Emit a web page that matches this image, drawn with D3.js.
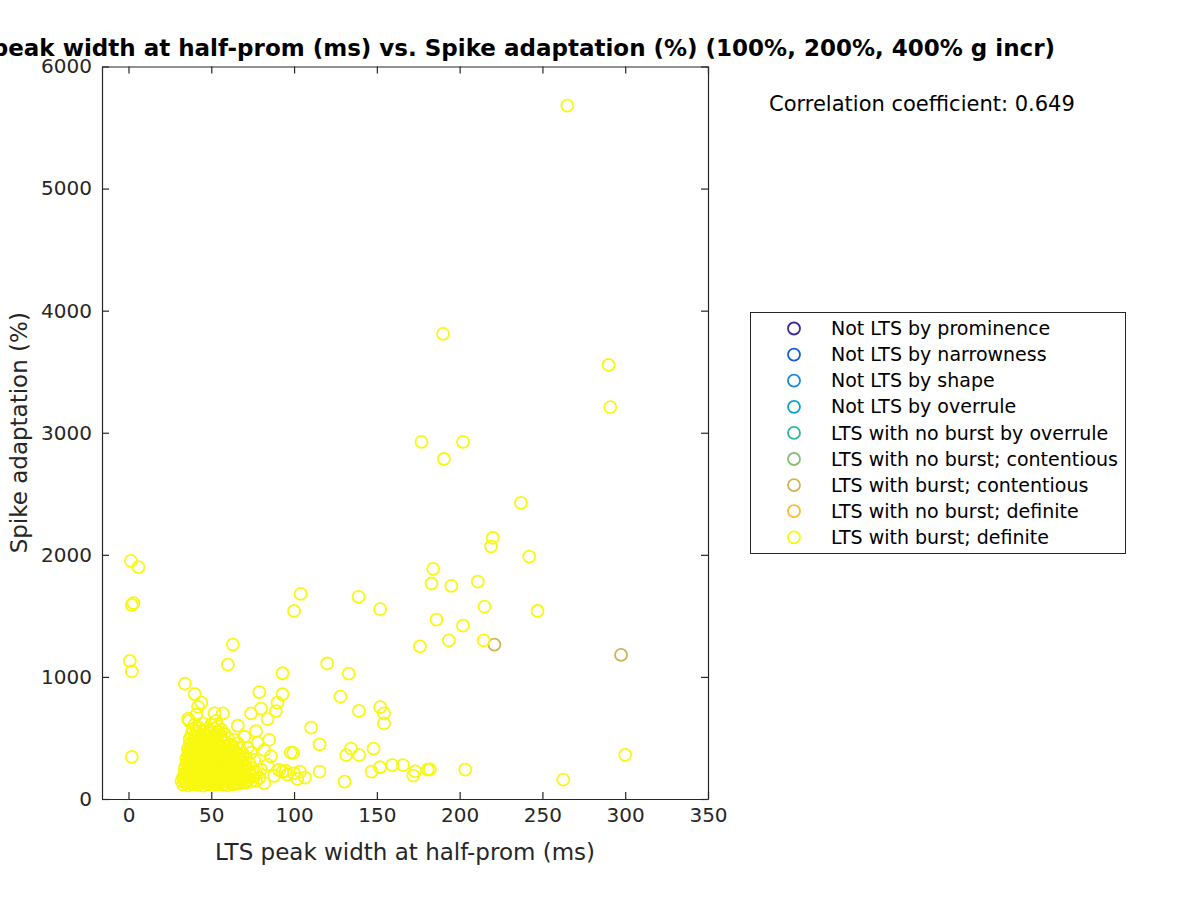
<!DOCTYPE html>
<html>
<head>
<meta charset="utf-8">
<script src="https://cdn.jsdelivr.net/npm/d3@7"></script>
<style>
  html, body { margin: 0; padding: 0; background: #ffffff; }
  svg { display: block; font-family: "DejaVu Sans", sans-serif; }
</style>
</head>
<body>
<svg id="chart" width="1200" height="900"></svg>
<script>
// ---------------- data ----------------
const titleText = "LTS peak width at half-prom (ms) vs. Spike adaptation (%) (100%, 200%, 400% g incr)";
const xLabel = "LTS peak width at half-prom (ms)";
const yLabel = "Spike adaptation (%)";
const corrText = "Correlation coefficient: 0.649";

const xTicks = [0, 50, 100, 150, 200, 250, 300, 350];
const yTicks = [0, 1000, 2000, 3000, 4000, 5000, 6000];
const xDomain = [-16, 350];
const yDomain = [0, 6000];

const categories = [
  "Not LTS by prominence",
  "Not LTS by narrowness",
  "Not LTS by shape",
  "Not LTS by overrule",
  "LTS with no burst by overrule",
  "LTS with no burst; contentious",
  "LTS with burst; contentious",
  "LTS with no burst; definite",
  "LTS with burst; definite"
];
const categoryColors = ["#3e2a98", "#0f5ddf", "#1a86dc", "#08a5c8", "#30b59f", "#86bf72", "#ceb454", "#fcbb36", "#f8f810"];

// points: [LTS peak width (ms), spike adaptation (%)]
const burstContentious = [[221, 1265], [297.5, 1180]];

const burstDefinite = [
  // outliers
  [265, 5680], [190, 3810], [290, 3555], [291, 3210], [177, 2925], [202, 2925], [190.5, 2785],
  [237, 2425], [220, 2140], [219, 2070], [242, 1985], [184, 1885], [211, 1780], [183, 1765],
  [195, 1745], [215, 1575], [247, 1540], [186, 1470], [202, 1420], [193.5, 1300], [214.5, 1300],
  [176, 1250], [104, 1680], [100, 1540], [139, 1655], [152, 1555], [120, 1110], [133, 1027],
  [128, 838], [93, 1030], [63, 1265], [60, 1100],
  [1.5, 1950], [6, 1900], [3, 1605], [2, 1590], [0.8, 1131], [2, 1045], [2, 345],
  [152, 752], [154.3, 702], [154.3, 620], [139.2, 721], [110.3, 584], [115.4, 448],
  [134.4, 413], [131.5, 360], [139.4, 360], [148, 412], [300, 362],
  [103.6, 224], [106.6, 175], [115.4, 224], [130.5, 142], [146.8, 224], [151.9, 260],
  [159.3, 277], [165.8, 277], [173.2, 226], [172, 192], [180.7, 240], [182, 242],
  [203.4, 240], [262.6, 158],
  // scattered around the main cluster
  [34, 945], [40, 860], [44, 790], [42, 755], [41, 690], [36, 656], [36.5, 640], [52, 702],
  [57, 702], [53, 640], [54, 593], [66, 600], [74, 702], [79, 875], [93, 858], [90, 790],
  [89, 720], [80, 740], [84, 655], [77, 555], [85, 485], [70, 510], [98, 380], [99.5, 378],
  [84, 280], [91, 238], [100, 210], [102, 164], [82, 130], [93, 225], [96, 200], [88, 190],
  [80, 240], [76, 320], [78, 460], [72, 420], [82, 400], [86, 350], [74, 380], [95, 230],
  // dense cluster
  [33, 118], [36, 112], [39, 121], [42, 115], [45, 110], [48, 119], [51, 113], [54, 122], [57, 116], [60, 111], [63, 120], [66, 125],
  [34.5, 131], [37.5, 128], [40.5, 134], [43.5, 130], [46.5, 127], [49.5, 133], [52.5, 129], [55.5, 135], [58.5, 126], [61.5, 132], [64.5, 130], [67.5, 128], [70.5, 134],
  [32, 148], [35, 140], [38, 152], [41, 143], [44, 147], [47, 138], [50, 150], [53, 144], [56, 141], [59, 153], [62, 146], [65, 139], [68, 151], [71, 145], [74, 142], [77, 149],
  [33.5, 163], [36.5, 160], [39.5, 166], [42.5, 162], [45.5, 158], [48.5, 165], [51.5, 161], [54.5, 167], [57.5, 159], [60.5, 164], [63.5, 162], [66.5, 158], [69.5, 166], [72.5, 161],
  [33, 178], [36, 186], [39, 174], [42, 182], [45, 188], [48, 176], [51, 184], [54, 179], [57, 187], [60, 175], [63, 183], [66, 180], [69, 188], [72, 177], [75, 185], [79, 172],
  [34.5, 197], [37.5, 194], [40.5, 200], [43.5, 196], [46.5, 192], [49.5, 199], [52.5, 195], [55.5, 201], [58.5, 193], [61.5, 198], [64.5, 196], [67.5, 192], [70.5, 200], [73.5, 195], [76.5, 198],
  [34, 212], [37, 220], [40, 208], [43, 216], [46, 223], [49, 210], [52, 218], [55, 213], [58, 221], [61, 209], [64, 217], [67, 214], [70, 222], [73, 211], [77, 219],
  [35.5, 233], [38.5, 230], [41.5, 236], [44.5, 232], [47.5, 228], [50.5, 235], [53.5, 231], [56.5, 237], [59.5, 229], [62.5, 234], [65.5, 232], [68.5, 228], [72.5, 235],
  [34, 252], [37, 258], [40, 247], [43, 260], [46, 250], [49, 256], [52, 245], [55, 262], [58, 251], [61, 257], [64, 248], [67, 255], [71, 262], [75, 250],
  [36, 273], [39, 270], [42, 276], [45, 272], [48, 268], [51, 275], [54, 271], [57, 277], [60, 269], [63, 274], [66, 272], [70, 276],
  [35, 292], [38, 300], [41, 288], [44, 297], [47, 303], [50, 290], [53, 298], [56, 286], [59, 295], [62, 301], [65, 289], [69, 296], [73, 291],
  [36.5, 313], [39.5, 310], [42.5, 316], [45.5, 312], [48.5, 308], [51.5, 315], [54.5, 311], [57.5, 317], [60.5, 309], [64, 314], [68, 312],
  [35, 332], [38, 340], [41, 328], [44, 337], [47, 343], [50, 330], [53, 338], [56, 326], [59, 335], [63, 341], [67, 329], [71, 336],
  [37, 353], [40, 350], [43, 356], [46, 352], [49, 348], [52, 355], [55, 351], [58, 357], [62, 349], [66, 354],
  [36, 372], [39, 380], [42, 368], [45, 377], [48, 383], [51, 370], [54, 378], [57, 366], [61, 375], [65, 381], [69, 370],
  [37.5, 395], [40.5, 392], [43.5, 398], [46.5, 394], [49.5, 390], [53, 397], [56.5, 393], [60, 399], [63, 391],
  [36, 412], [39, 420], [42, 408], [45, 417], [48, 423], [51, 410], [55, 418], [59, 406], [63, 415], [67, 420],
  [38, 435], [41, 432], [44, 438], [47.5, 434], [51, 430], [54.5, 437], [58, 433], [61, 439],
  [37, 452], [40, 460], [43, 448], [46, 457], [50, 463], [54, 450], [58, 458], [62, 446], [66, 455],
  [39, 475], [42.5, 472], [46, 478], [49.5, 474], [53, 470], [57, 477],
  [37, 492], [41, 500], [44, 488], [48, 497], [52, 503], [56, 490], [60, 498], [64, 486],
  [40, 515], [44, 512], [48, 518], [52, 514], [56, 511],
  [38, 532], [42, 540], [46, 528], [50, 537], [54, 526], [58, 534],
  [41, 555], [45, 552], [49, 558], [54, 553],
  [39, 572], [43, 580], [47, 568], [52, 577], [56, 570],
  [40, 612], [45, 620], [50, 608]
];

// ---------------- layout ----------------
const svg = d3.select("#chart");
const plot = { left: 102, right: 708, top: 66.5, bottom: 799 };
const axisColor = "#262626";

svg.append("rect").attr("width", 1200).attr("height", 900).attr("fill", "#ffffff");

const x = d3.scaleLinear().domain(xDomain).range([plot.left, plot.right]);
const y = d3.scaleLinear().domain(yDomain).range([plot.bottom, plot.top]);

// points (clipped to the axes box)
svg.append("clipPath").attr("id", "clip")
  .append("rect")
  .attr("x", plot.left).attr("y", plot.top)
  .attr("width", plot.right - plot.left).attr("height", plot.bottom - plot.top);

const pts = svg.append("g").attr("clip-path", "url(#clip)");
const series = [
  { data: burstContentious, color: categoryColors[6] },
  { data: burstDefinite, color: categoryColors[8] }
];
series.forEach(s => {
  pts.selectAll(null).data(s.data).enter().append("circle")
    .attr("cx", d => x(d[0]))
    .attr("cy", d => y(d[1]))
    .attr("r", 6)
    .attr("fill", "none")
    .attr("stroke", s.color)
    .attr("stroke-width", 1.8);
});

// axes
function styleAxis(g) {
  g.selectAll("path").attr("stroke", axisColor).attr("stroke-width", 1.2);
  g.selectAll("line").attr("stroke", axisColor).attr("stroke-width", 1.2);
  g.selectAll("text").attr("fill", axisColor).attr("font-size", 20).attr("font-family", "DejaVu Sans, sans-serif");
}

svg.append("g")
  .attr("transform", `translate(0,${plot.bottom})`)
  .call(d3.axisBottom(x).tickValues(xTicks).tickSizeInner(-7).tickSizeOuter(0).tickPadding(9).tickFormat(d3.format("d")))
  .call(styleAxis);

svg.append("g")
  .attr("transform", `translate(0,${plot.top})`)
  .call(d3.axisTop(x).tickValues(xTicks).tickSizeInner(-7).tickSizeOuter(0).tickFormat(""))
  .call(styleAxis);

svg.append("g")
  .attr("transform", `translate(${plot.left},0)`)
  .call(d3.axisLeft(y).tickValues(yTicks).tickSizeInner(-7).tickSizeOuter(0).tickPadding(10).tickFormat(d3.format("d")))
  .call(styleAxis);

svg.append("g")
  .attr("transform", `translate(${plot.right},0)`)
  .call(d3.axisRight(y).tickValues(yTicks).tickSizeInner(-7).tickSizeOuter(0).tickFormat(""))
  .call(styleAxis);

svg.selectAll(".domain").attr("fill", "none");

// labels
svg.append("text")
  .attr("x", (plot.left + plot.right) / 2).attr("y", 860)
  .attr("text-anchor", "middle").attr("font-size", 23).attr("fill", axisColor)
  .text(xLabel);

svg.append("text")
  .attr("transform", `translate(27,${(plot.top + plot.bottom) / 2}) rotate(-90)`)
  .attr("text-anchor", "middle").attr("font-size", 23).attr("fill", axisColor)
  .text(yLabel);

// title (its left part runs off the page, as in the original figure)
svg.append("text")
  .attr("x", 1055).attr("y", 56)
  .attr("text-anchor", "end").attr("font-size", 23).attr("font-weight", "bold").attr("fill", "#000000")
  .text(titleText);

svg.append("text")
  .attr("x", 769).attr("y", 111)
  .attr("font-size", 21).attr("fill", "#000000")
  .text(corrText);

// legend
const legend = svg.append("g");
legend.append("rect")
  .attr("x", 750.5).attr("y", 312.5).attr("width", 375).attr("height", 241)
  .attr("fill", "#ffffff").attr("stroke", axisColor).attr("stroke-width", 1);

const items = legend.selectAll("g.item").data(categories).enter().append("g")
  .attr("transform", (d, i) => `translate(0,${328.5 + i * 26.1})`);
items.append("circle")
  .attr("cx", 794).attr("cy", 0).attr("r", 6)
  .attr("fill", "none").attr("stroke-width", 1.8)
  .attr("stroke", (d, i) => categoryColors[i]);
items.append("text")
  .attr("x", 831).attr("y", 0).attr("dy", "0.35em")
  .attr("font-size", 19).attr("fill", "#000000")
  .text(d => d);
</script>
</body>
</html>
